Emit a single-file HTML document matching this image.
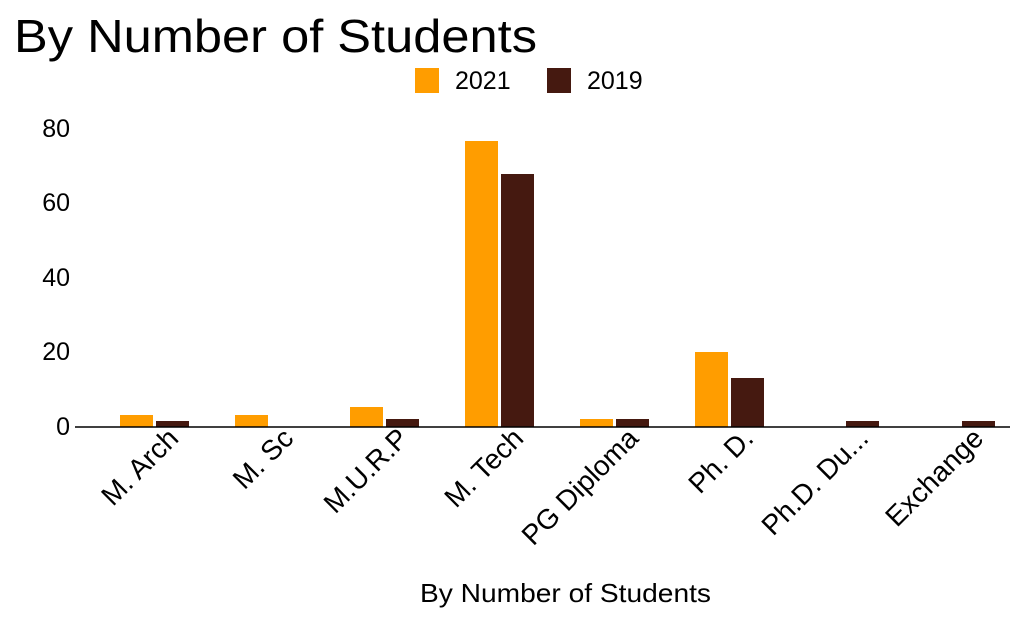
<!DOCTYPE html>
<html><head><style>
body{margin:0;background:#fff;}
svg{display:block;font-family:"Liberation Sans",sans-serif;}
</style></head><body>
<svg width="1010" height="622" xmlns="http://www.w3.org/2000/svg">
<text x="14" y="52" font-size="46" fill="#000" textLength="523" lengthAdjust="spacingAndGlyphs">By Number of Students</text>
<rect x="415" y="68" width="24" height="25" fill="#ff9d00"/>
<text x="455" y="89" font-size="25">2021</text>
<rect x="547" y="68" width="24" height="25" fill="#451910"/>
<text x="587" y="89" font-size="25">2019</text>
<g font-size="25" text-anchor="end">
<text x="70" y="435">0</text>
<text x="70" y="360">20</text>
<text x="70" y="286">40</text>
<text x="70" y="211">60</text>
<text x="70" y="137">80</text>
</g>
<g fill="#ff9d00">
<rect x="120" y="415" width="33" height="12"/>
<rect x="235" y="415" width="33" height="12"/>
<rect x="350" y="407" width="33" height="20"/>
<rect x="465" y="141" width="33" height="286"/>
<rect x="580" y="419" width="33" height="8"/>
<rect x="695" y="352" width="33" height="75"/>
</g>
<g fill="#451910">
<rect x="156" y="421" width="33" height="6"/>
<rect x="386" y="419" width="33" height="8"/>
<rect x="501" y="174" width="33" height="253"/>
<rect x="616" y="419" width="33" height="8"/>
<rect x="731" y="378" width="33" height="49"/>
<rect x="846" y="421" width="33" height="6"/>
<rect x="962" y="421" width="33" height="6"/>
</g>
<line x1="75" y1="427" x2="1010" y2="427" stroke="#000" stroke-width="1.5"/>
<g font-size="28" text-anchor="end">
<text transform="translate(180,440) rotate(-45)">M. Arch</text>
<text transform="translate(295,440) rotate(-45)">M. Sc</text>
<text transform="translate(410,440) rotate(-45)">M.U.R.P</text>
<text transform="translate(525,440) rotate(-45)">M. Tech</text>
<text transform="translate(640,440) rotate(-45)">PG Diploma</text>
<text transform="translate(755,440) rotate(-45)">Ph. D.</text>
<text transform="translate(870,440) rotate(-45)">Ph.D. Du...</text>
<text transform="translate(985,440) rotate(-45)">Exchange</text>
</g>
<text x="420" y="602" font-size="26" textLength="291" lengthAdjust="spacingAndGlyphs">By Number of Students</text>
</svg>
</body></html>
